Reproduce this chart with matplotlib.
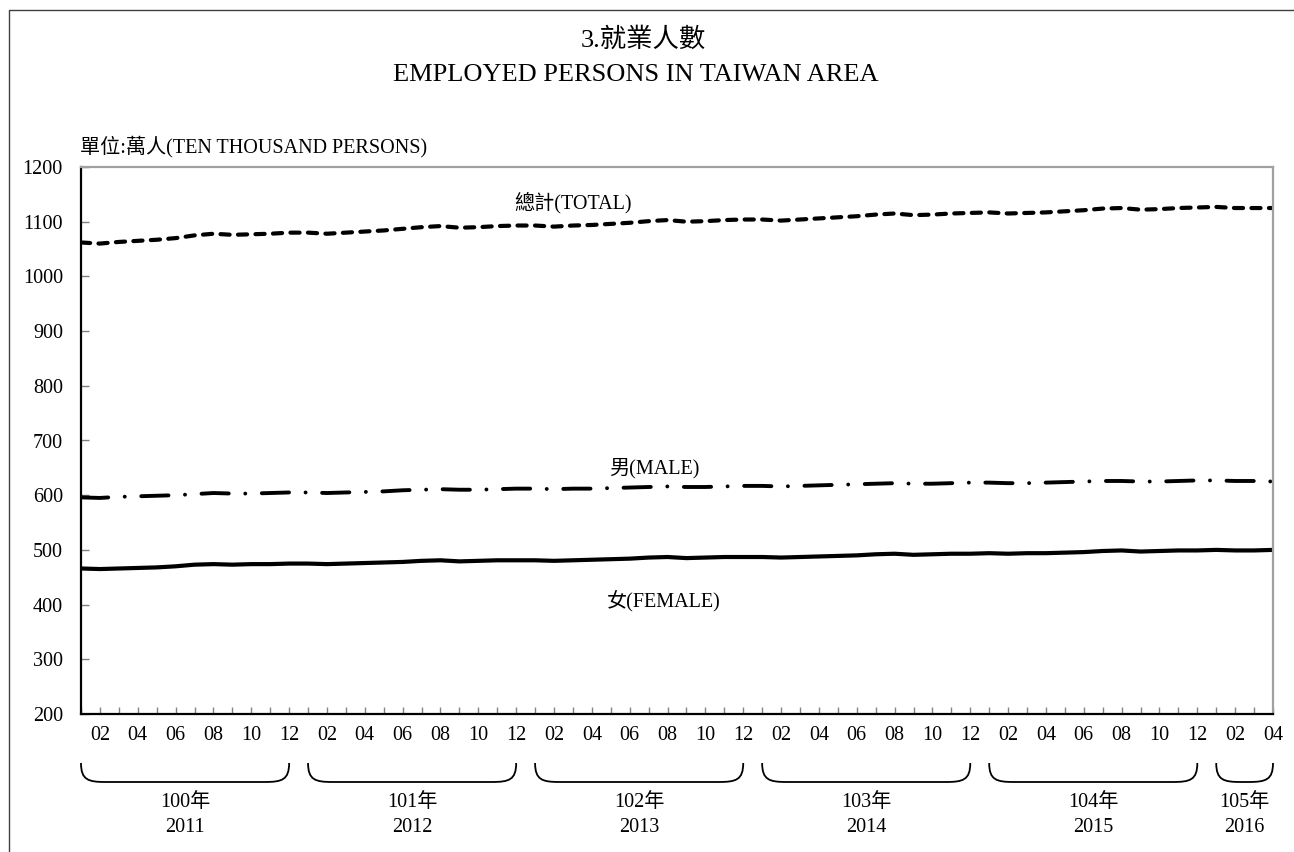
import numpy as np
import matplotlib.pyplot as plt
from matplotlib.path import Path
from matplotlib.patches import PathPatch
from matplotlib.lines import Line2D
import matplotlib.transforms as mtransforms

plt.rcParams['font.family'] = ['Liberation Serif', 'Noto Sans CJK TC']

# employed persons, ten thousand persons, 2011-01 .. 2016-04
total = [1062, 1060, 1063, 1065, 1067, 1070, 1075, 1078, 1076, 1077, 1078, 1080,
         1080, 1078, 1080, 1082, 1084, 1087, 1090, 1092, 1089, 1090, 1092, 1093,
         1093, 1091, 1093, 1094, 1096, 1098, 1101, 1103, 1100, 1101, 1103, 1104,
         1104, 1102, 1104, 1106, 1108, 1110, 1113, 1115, 1112, 1113, 1115, 1116,
         1117, 1115, 1116, 1117, 1119, 1121, 1124, 1125, 1122, 1123, 1125, 1126,
         1127, 1125, 1125, 1125]
male = [596, 595, 597, 598, 599, 600, 602, 604, 603, 603, 604, 605,
        605, 604, 605, 606, 607, 609, 610, 611, 610, 610, 611, 612,
        612, 611, 612, 612, 613, 614, 615, 616, 615, 615, 616, 617,
        617, 616, 617, 618, 619, 620, 621, 622, 621, 621, 622, 623,
        623, 622, 622, 623, 624, 625, 626, 626, 625, 625, 626, 627,
        627, 626, 626, 625]
female = [466, 465, 466, 467, 468, 470, 473, 474, 473, 474, 474, 475,
          475, 474, 475, 476, 477, 478, 480, 481, 479, 480, 481, 481,
          481, 480, 481, 482, 483, 484, 486, 487, 485, 486, 487, 487,
          487, 486, 487, 488, 489, 490, 492, 493, 491, 492, 493, 493,
          494, 493, 494, 494, 495, 496, 498, 499, 497, 498, 499, 499,
          500, 499, 499, 500]

years_roc = ['100年', '101年', '102年', '103年', '104年', '105年']
years_ad = ['2011', '2012', '2013', '2014', '2015', '2016']
months_in_year = [12, 12, 12, 12, 12, 4]

month_no = [m for n in months_in_year for m in range(1, n + 1)]
x = np.arange(1, len(total) + 1)

fig = plt.figure(figsize=(12.94, 8.52), dpi=100)
ax = fig.add_axes([81 / 1294, 1 - 714 / 852, (1273 - 81) / 1294, (714 - 167) / 852])

ax.plot(x, total, color='black', lw=3, dashes=(2.2, 2), dash_capstyle='round')
ax.plot(x, male, color='black', lw=2.8, dashes=(7, 4.25, 0.01, 4.25), dash_capstyle='round')
ax.plot(x, female, color='black', lw=3, solid_capstyle='round')

ax.set_xlim(1, len(total))
ax.set_ylim(200, 1200)
ax.set_yticks(range(200, 1201, 100))
ax.set_xticks(x)
ax.set_xticklabels([f'{m:02d}' if m % 2 == 0 else '' for m in month_no])
ax.tick_params(axis='y', direction='in', length=6, width=1, color='#808080', pad=13, labelsize=14.5)
ax.tick_params(axis='x', direction='in', length=5, width=1, color='#808080', pad=9, labelsize=14.5)

for s in ['left', 'bottom']:
    ax.spines[s].set_color('black')
    ax.spines[s].set_linewidth(1.6)
for s in ['top', 'right']:
    ax.spines[s].set_color('#a0a0a0')
    ax.spines[s].set_linewidth(1.6)

# series labels
ax.text(27.0, 1134, '總計(TOTAL)', ha='center', va='center', fontsize=14.5)
ax.text(31.3, 650, '男(MALE)', ha='center', va='center', fontsize=14.5)
ax.text(31.8, 407, '女(FEMALE)', ha='center', va='center', fontsize=14.5)

# year brackets under the axis
trans = mtransforms.blended_transform_factory(ax.transData, ax.transAxes)
y_top, y_bot = -0.0896, -0.1243
r = 1.3
start = 1
for roc, ad, n in zip(years_roc, years_ad, months_in_year):
    x0, x1 = start, start + n - 1
    verts = [(x0, y_top),
             (x0, y_top + (y_bot - y_top) * 0.9), (x0 + r * 0.3, y_bot), (x0 + r, y_bot),
             (x1 - r, y_bot),
             (x1 - r * 0.3, y_bot), (x1, y_top + (y_bot - y_top) * 0.9), (x1, y_top)]
    codes = [Path.MOVETO, Path.CURVE4, Path.CURVE4, Path.CURVE4, Path.LINETO,
             Path.CURVE4, Path.CURVE4, Path.CURVE4]
    ax.add_patch(PathPatch(Path(verts, codes), transform=trans, fill=False,
                           edgecolor='black', lw=1.3, clip_on=False))
    xm = (x0 + x1) / 2
    ax.text(xm, -0.161, roc, transform=trans, ha='center', va='center', fontsize=14.5)
    ax.text(xm, -0.2084, ad, transform=trans, ha='center', va='center', fontsize=14.5)
    start += n

fig.text(0.497, 1 - 40 / 852, '3.就業人數', ha='center', va='center', fontsize=19)
fig.text(0.491, 1 - 75 / 852, 'EMPLOYED PERSONS IN TAIWAN AREA', ha='center', va='center', fontsize=19)
fig.text(80 / 1294, 1 - 147 / 852, '單位:萬人(TEN THOUSAND PERSONS)', ha='left', va='center', fontsize=14.5)

# chart area border
fig.add_artist(Line2D([9 / 1294, 9 / 1294, 1], [0, 1 - 10 / 852, 1 - 10 / 852],
                      transform=fig.transFigure, color='#404040', lw=1))

fig.savefig('out.png', dpi=100)
